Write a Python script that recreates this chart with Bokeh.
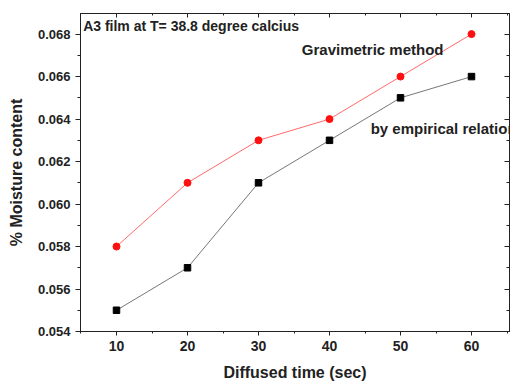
from bokeh.plotting import figure
from bokeh.models import LinearAxis, SingleIntervalTicker, PrintfTickFormatter, Label, CustomJSTickFormatter
from bokeh.embed import file_html
from bokeh.resources import INLINE

time_sec = [10, 20, 30, 40, 50, 60]
gravimetric = [0.058, 0.061, 0.063, 0.064, 0.066, 0.068]
empirical = [0.055, 0.057, 0.061, 0.063, 0.065, 0.066]

title_text = "A3 film at T= 38.8 degree calcius"
grav_label = "Gravimetric method"
emp_label = "by empirical relation"
x_title = "Diffused time (sec)"
y_title = "% Moisture content"

FONT = "Liberation Sans"

p = figure(width=510, height=385, x_range=(4.93, 65.35), y_range=(0.054, 0.06897),
           output_backend="svg", toolbar_location=None,
           min_border_left=80, min_border_right=1, min_border_top=13, min_border_bottom=54,
           x_axis_location=None, y_axis_location=None)
p.background_fill_color = "white"
p.border_fill_color = "white"
p.outline_line_color = "#222222"
p.outline_line_width = 1
p.xgrid.visible = False
p.ygrid.visible = False

def style_axis(ax, show_labels, tin, tout, lab_size="13px"):
    ax.axis_line_color = "#222222"
    ax.major_tick_line_color = "#222222"
    ax.minor_tick_line_color = "#222222"
    ax.major_tick_in = tin
    ax.major_tick_out = tout
    ax.minor_tick_in = max(tin - 2, 0)
    ax.minor_tick_out = max(tout - 2, 0)
    if show_labels:
        ax.major_label_text_font = FONT
        ax.major_label_text_font_style = "bold"
        ax.major_label_text_font_size = lab_size
        ax.major_label_text_color = "#222222"
        ax.axis_label_text_font = FONT
        ax.axis_label_text_font_style = "bold"
        ax.axis_label_text_font_size = "16px"
        ax.axis_label_text_color = "#222222"
    else:
        ax.formatter = CustomJSTickFormatter(code="return '';")
        ax.major_label_standoff = 0

xb = LinearAxis(ticker=SingleIntervalTicker(interval=10, num_minor_ticks=2), axis_label=x_title)
style_axis(xb, True, 0, 4, "14px")
xb.major_label_standoff = 5
xb.axis_label_standoff = 10
p.add_layout(xb, "below")

yl = LinearAxis(ticker=SingleIntervalTicker(interval=0.002, num_minor_ticks=2),
                formatter=PrintfTickFormatter(format="%.3f"), axis_label=y_title)
style_axis(yl, True, 0, 5, "13px")
yl.major_label_standoff = 5
yl.axis_label_standoff = 10
p.add_layout(yl, "left")

xt = LinearAxis(ticker=SingleIntervalTicker(interval=10, num_minor_ticks=2))
style_axis(xt, False, 4, 0)
p.add_layout(xt, "above")

yr = LinearAxis(ticker=SingleIntervalTicker(interval=0.002, num_minor_ticks=2))
style_axis(yr, False, 5, 0)
p.add_layout(yr, "right")

p.line(time_sec, gravimetric, line_color="#ff6a6a", line_width=1)
p.scatter(time_sec, gravimetric, marker="circle", size=7, fill_color="#ff1010", line_color="#ff1010")
p.line(time_sec, empirical, line_color="#777777", line_width=1)
p.scatter(time_sec, empirical, marker="square", size=6.5, fill_color="black", line_color="black")

def add_label(x, y, text, size, style):
    p.add_layout(Label(x=x, y=y, text=text, text_font=FONT, text_font_size=size,
                       text_font_style=style, text_color="#222222",
                       text_baseline="top", text_align="left"))

add_label(5.3, 0.06877, title_text, "14px", "bold")
add_label(36.1, 0.06768, grav_label, "15px", "bold")
add_label(45.8, 0.06394, emp_label, "15px", "bold")

open("out.html", "w").write(file_html(p, INLINE))
